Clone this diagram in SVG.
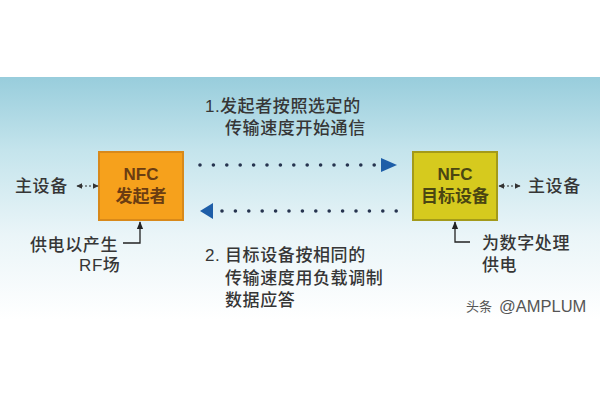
<svg xmlns="http://www.w3.org/2000/svg" width="600" height="400" viewBox="0 0 600 400">
  <defs>
    <linearGradient id="bg" x1="0" y1="0" x2="0" y2="1">
      <stop offset="0" stop-color="#98CDDC"/>
      <stop offset="0.3" stop-color="#C4E4EC"/>
      <stop offset="0.65" stop-color="#EAF5F8"/>
      <stop offset="1" stop-color="#FFFFFF"/>
    </linearGradient>
    <marker id="sa" viewBox="0 0 10 10" refX="9" refY="5" markerWidth="6" markerHeight="6" orient="auto-start-reverse" markerUnits="userSpaceOnUse">
      <path d="M0,0 L10,5 L0,10 z" fill="#333"/>
    </marker>
    <marker id="va" viewBox="0 0 10 10" refX="9" refY="5" markerWidth="8" markerHeight="8" orient="auto" markerUnits="userSpaceOnUse">
      <path d="M0,1 L10,5 L0,9 z" fill="#222"/>
    </marker>
    <style>
      .t { font-family: "Liberation Sans", "Noto Sans CJK SC", sans-serif; font-size: 17px; fill: #363636; letter-spacing: 0.6px; font-weight: 500; }
      .bt1 { font-family: "Liberation Sans", "Noto Sans CJK SC", sans-serif; font-size: 17px; fill: #6B3D12; text-anchor: middle; font-weight: bold; }
      .bt2 { font-family: "Liberation Sans", "Noto Sans CJK SC", sans-serif; font-size: 17px; fill: #4A4612; text-anchor: middle; font-weight: bold; }
      .dots { stroke: #26344F; stroke-width: 3.6; stroke-linecap: round; stroke-dasharray: 0 13.4; fill: none; }
      .tri { fill: #1E5EA8; }
      .small { stroke: #333; stroke-width: 1.2; stroke-dasharray: 2 2; fill: none; }
      .lead { stroke: #222; stroke-width: 1.3; fill: none; }
    </style>
  </defs>

  <rect x="0" y="0" width="600" height="400" fill="#FFFFFF"/>
  <rect x="0" y="77" width="600" height="243" fill="url(#bg)"/>

  <g id="initiator">
    <rect x="99" y="152" width="84" height="68" fill="#F6A11C" stroke="#D8891A" stroke-width="2"/>
    <text class="bt1" x="141" y="180">NFC</text>
    <text class="bt1" x="141" y="202">发起者</text>
  </g>

  <g id="target">
    <rect x="413" y="152" width="84" height="68" fill="#D6CA1E" stroke="#A39A1A" stroke-width="2"/>
    <text class="bt2" x="455" y="180">NFC</text>
    <text class="bt2" x="455" y="202">目标设备</text>
  </g>

  <g id="host-left">
    <text class="t" x="15" y="192">主设备</text>
  </g>
  <g id="host-right">
    <text class="t" x="528" y="192">主设备</text>
  </g>

  <g id="label-step1">
    <text class="t" y="112"><tspan x="205">1.</tspan><tspan x="220">发起者按照选定的</tspan></text>
    <text class="t" x="225" y="134">传输速度开始通信</text>
  </g>
  <g id="label-step2">
    <text class="t" y="261"><tspan x="205">2.</tspan><tspan x="225">目标设备按相同的</tspan></text>
    <text class="t" x="225" y="284">传输速度用负载调制</text>
    <text class="t" x="225" y="306">数据应答</text>
  </g>
  <g id="label-power-left">
    <text class="t" x="30" y="251">供电以产生</text>
    <text class="t" x="79" y="271">RF场</text>
  </g>
  <g id="label-power-right">
    <text class="t" x="482" y="249">为数字处理</text>
    <text class="t" x="482" y="271">供电</text>
  </g>

  <g id="connectors">
    <line class="dots" x1="200" y1="165" x2="375" y2="165"/>
    <polygon class="tri" points="381,158 397,165 381,172"/>
    <line class="dots" x1="222" y1="211" x2="397" y2="211"/>
    <polygon class="tri" points="213,203 200,211 213,219"/>
    <line class="small" x1="77" y1="186" x2="98" y2="186" marker-start="url(#sa)" marker-end="url(#sa)"/>
    <line class="small" x1="499" y1="186" x2="520" y2="186" marker-start="url(#sa)" marker-end="url(#sa)"/>
    <polyline class="lead" points="123,243 140,243 140,222" marker-end="url(#va)"/>
    <polyline class="lead" points="470,242 455,242 455,222" marker-end="url(#va)"/>
  </g>

  <g id="watermark">
    <text x="466" y="311" font-family="Noto Sans CJK SC, sans-serif" font-size="13" fill="#555">头条</text>
    <text x="499" y="312" font-family="Liberation Sans, sans-serif" font-size="16.5" fill="#555">@AMPLUM</text>
  </g>
</svg>
